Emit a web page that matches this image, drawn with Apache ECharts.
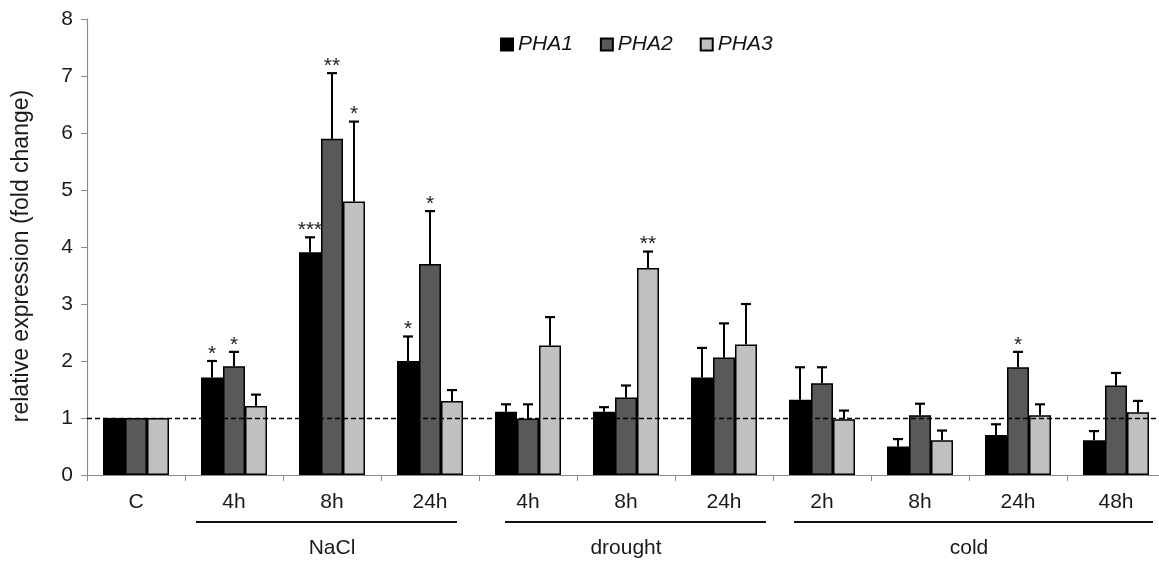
<!DOCTYPE html>
<html>
<head>
<meta charset="utf-8">
<script src="https://cdn.jsdelivr.net/npm/echarts@6/dist/echarts.min.js"></script>
<style>
html,body{margin:0;padding:0;background:#fff;}
#chart{width:1159px;height:562px;}
</style>
</head>
<body>
<div id="chart"></div>
<script>
// ---- data ----
var categories = ['C','4h','8h','24h','4h','8h','24h','2h','8h','24h','48h'];
var seriesNames = ['PHA1','PHA2','PHA3'];
var pha1 = [1, 1.71, 3.91, 2.00, 1.11, 1.11, 1.71, 1.32, 0.50, 0.70, 0.61];
var pha2 = [1, 1.91, 5.90, 3.70, 0.99, 1.36, 2.06, 1.61, 1.05, 1.89, 1.57];
var pha3 = [1, 1.21, 4.80, 1.30, 2.27, 3.63, 2.29, 0.98, 0.61, 1.05, 1.10];
var pha1Err = [0, 0.29, 0.26, 0.43, 0.13, 0.08, 0.52, 0.57, 0.13, 0.19, 0.16];
var pha2Err = [0, 0.25, 1.15, 0.93, 0.25, 0.21, 0.60, 0.28, 0.20, 0.27, 0.22];
var pha3Err = [0, 0.20, 1.40, 0.19, 0.50, 0.29, 0.71, 0.15, 0.17, 0.19, 0.20];
var pha1Sig = ['', '*', '***', '*', '', '', '', '', '', '', ''];
var pha2Sig = ['', '*', '**', '*', '', '', '', '', '', '*', ''];
var pha3Sig = ['', '', '*', '', '', '**', '', '', '', '', ''];
var yTicks = [0,1,2,3,4,5,6,7,8];
var groupNames = ['NaCl','drought','cold'];
var groupFirst = [1, 4, 7];
var groupLast = [3, 6, 10];
var baseline = 1;

// ---- styles ----
var colors = ['#000000','#595959','#c0c0c0'];
var groupInsetL = [11, 26, 21];
var groupInsetR = [22, 7, 12];
var FONT = 'Liberation Sans, Arial, sans-serif';
var BAR_W = 22;

var values = [pha1, pha2, pha3];
var errs = [pha1Err, pha2Err, pha3Err];
var sigs = [pha1Sig, pha2Sig, pha3Sig];

var chart = echarts.init(document.getElementById('chart'), null, {renderer:'canvas'});

var series = [];
seriesNames.forEach(function(name, s){
  var bar = {
    name: name, type: 'bar', data: values[s],
    barWidth: BAR_W, barGap: '0%',
    itemStyle: {color: colors[s], borderColor: '#000', borderWidth: 1.5},
    z: 2
  };
  if (s === 0) {
    bar.markLine = {
      silent: true, symbol: ['none','none'],
      label: {show:false},
      lineStyle: {color:'#000', type:[5,3], width:1.3},
      data: [{yAxis: baseline}],
      z: 5
    };
  }
  series.push(bar);
});
seriesNames.forEach(function(name, s){
  var data = values[s].map(function(v, i){ return [i, v, errs[s][i]]; });
  series.push({
    name: 'err' + s, type: 'custom', z: 4,
    data: data,
    renderItem: function(params, api){
      var i = api.value(0), v = api.value(1), e = api.value(2);
      var base = api.coord([i, v]);
      var top = api.coord([i, v + e]);
      var x = base[0] + (s - 1) * BAR_W;
      var children = [];
      if (e > 0) {
        children.push({type:'line', shape:{x1:x, y1:base[1], x2:x, y2:top[1]}, style:{stroke:'#000', lineWidth:2}});
        children.push({type:'line', shape:{x1:x-5, y1:top[1], x2:x+5, y2:top[1]}, style:{stroke:'#000', lineWidth:2.2}});
      }
      var star = sigs[s][params.dataIndex];
      if (star) {
        children.push({type:'text', style:{text: star, x: x, y: top[1] - 7, align:'center', verticalAlign:'middle', fill:'#222', font: '21px ' + FONT}});
      }
      return {type:'group', children: children};
    }
  });
});

var option = {
  animation: false,
  backgroundColor: '#fff',
  textStyle: {fontFamily: FONT},
  grid: {left: 87, top: 19, right: -6, bottom: 87, containLabel: false, outerBoundsMode: 'none'},
  legend: {
    data: seriesNames, left: 495, top: 29, icon: 'rect',
    itemWidth: 12, itemHeight: 12, itemGap: 27,
    textStyle: {fontStyle:'italic', fontSize: 21, color:'#111', fontFamily: FONT}
  },
  xAxis: {
    type: 'category', data: categories,
    axisLine: {lineStyle: {color:'#8c8c8c', width:1.2}},
    axisTick: {show:true, length:6, interval:0, lineStyle:{color:'#8c8c8c'}},
    axisLabel: {interval:0, fontSize:21, color:'#1a1a1a', margin:17, fontFamily: FONT}
  },
  yAxis: {
    type: 'value', min: yTicks[0], max: yTicks[yTicks.length-1], interval: 1,
    name: 'relative expression (fold change)', nameLocation: 'middle', nameGap: 54,
    nameTextStyle: {fontSize: 23, color:'#1a1a1a', fontFamily: FONT, padding:[0,18,0,0]},
    axisLine: {show:true, lineStyle:{color:'#8c8c8c', width:1.2}},
    axisTick: {show:true, length:6, lineStyle:{color:'#8c8c8c'}},
    axisLabel: {fontSize:21, color:'#1a1a1a', margin:14, fontFamily: FONT},
    splitLine: {show:false}
  },
  series: series
};
chart.setOption(option);

// group annotations under the category axis, placed from the axis scale
var x0 = chart.convertToPixel({xAxisIndex:0}, 0);
var x1 = chart.convertToPixel({xAxisIndex:0}, 1);
var cw = x1 - x0;
var yAxisPx = chart.convertToPixel({yAxisIndex:0}, 0);
var graphics = [];
groupNames.forEach(function(g, k){
  var left = chart.convertToPixel({xAxisIndex:0}, groupFirst[k]) - cw/2;
  var right = chart.convertToPixel({xAxisIndex:0}, groupLast[k]) + cw/2;
  graphics.push({type:'line', shape:{x1:left + groupInsetL[k], y1:yAxisPx + 47, x2:right - groupInsetR[k], y2:yAxisPx + 47}, style:{stroke:'#111', lineWidth:2}});
  graphics.push({type:'text', x:(left+right)/2, y:yAxisPx + 73, style:{text:g, align:'center', verticalAlign:'middle', fill:'#1a1a1a', font:'21px ' + FONT}});
});
chart.setOption({graphic: graphics});
</script>
</body>
</html>
